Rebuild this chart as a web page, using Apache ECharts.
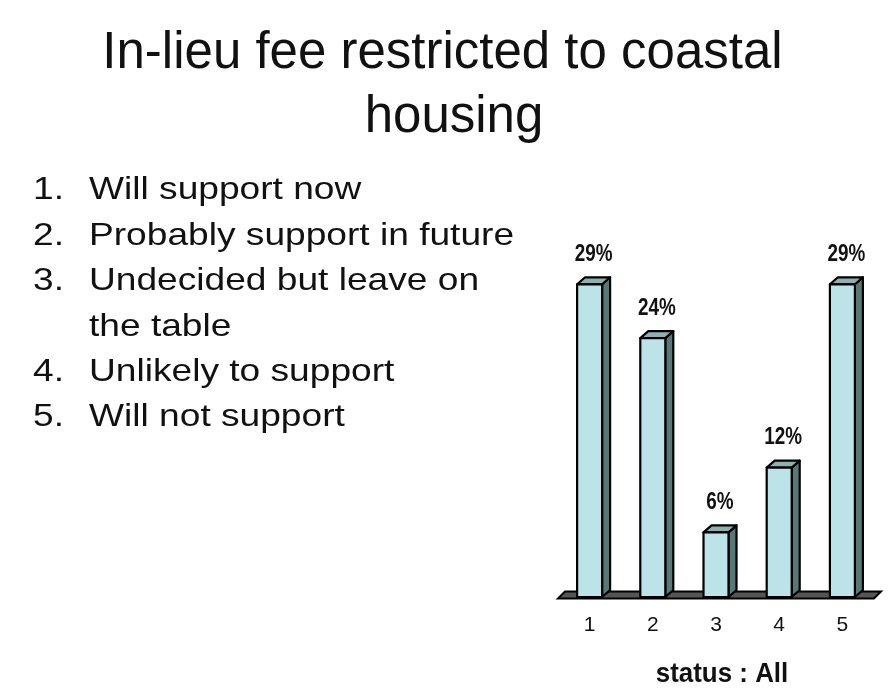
<!DOCTYPE html>
<html>
<head>
<meta charset="utf-8">
<script src="https://cdn.jsdelivr.net/npm/echarts@6/dist/echarts.min.js"></script>
<style>
  html, body { margin: 0; padding: 0; background: #ffffff; }
  #chart { width: 888px; height: 692px; }
</style>
</head>
<body>
<div id="chart"></div>
<script>
// Survey answers: share of respondents per answer option (percent)
const categories = ['1', '2', '3', '4', '5'];
const shares = [29, 24, 6, 12, 29];

// Title lines and the numbered list of answer options
const titleLines = ['In-lieu fee restricted to coastal', 'housing'];
const optionNumbers = ['1.', '2.', '3.', '', '4.', '5.'];
const optionTexts = [
  'Will support now',
  'Probably support in future',
  'Undecided but leave on',
  'the table',
  'Unlikely to support',
  'Will not support'
];
const axisCaption = 'status : All';

const chart = echarts.init(document.getElementById('chart'), null, { renderer: 'canvas' });

const GRID = { left: 558, width: 316, top: 273.5, height: 323.5 };
const BASE_Y = GRID.top + GRID.height;

// Pseudo-3D column: front face, right side and top cap, with a value label above
function renderColumn(params, api) {
  const ci = api.value(0);
  const v = api.value(1);
  const topPt = api.coord([ci, v]);
  const botPt = api.coord([ci, 0]);
  const hw = 12.5, dx = 8, dy = 7;
  const x0 = topPt[0] - hw, x1 = topPt[0] + hw;
  const yt = topPt[1], yb = botPt[1];
  const edge = { stroke: '#000', lineWidth: 2.2, lineJoin: 'round' };
  return {
    type: 'group',
    children: [
      { type: 'polygon', shape: { points: [[x1, yb], [x1, yt], [x1 + dx, yt - dy], [x1 + dx, yb - dy]] },
        style: Object.assign({ fill: '#587878' }, edge) },
      { type: 'polygon', shape: { points: [[x0, yt], [x0 + dx, yt - dy], [x1 + dx, yt - dy], [x1, yt]] },
        style: Object.assign({ fill: '#8fb0b0' }, edge) },
      { type: 'rect', shape: { x: x0, y: yt, width: 2 * hw, height: yb - yt },
        style: Object.assign({ fill: '#bce3e7' }, edge) },
      { type: 'text', x: topPt[0] + dx / 2, y: yt - 30, scaleX: 0.82,
        style: { text: v + '%', font: 'bold 23px "Liberation Sans", Arial, sans-serif',
                 fill: '#111', textAlign: 'center', textVerticalAlign: 'middle' } }
    ]
  };
}

const listY = [190, 236, 281.5, 327, 372, 417];
const listGraphics = [];
optionTexts.forEach(function (t, i) {
  if (optionNumbers[i]) {
    listGraphics.push({ type: 'text', x: 33, y: listY[i], scaleX: 1.16,
      style: { text: optionNumbers[i], font: '32px "Liberation Sans", Arial, sans-serif',
               fill: '#111', textAlign: 'left', textVerticalAlign: 'middle' } });
  }
  listGraphics.push({ type: 'text', x: 89, y: listY[i], scaleX: 1.16,
    style: { text: t, font: '32px "Liberation Sans", Arial, sans-serif',
             fill: '#111', textAlign: 'left', textVerticalAlign: 'middle' } });
});

const option = {
  backgroundColor: '#ffffff',
  animation: false,
  grid: { left: GRID.left, width: GRID.width, top: GRID.top, height: GRID.height },
  xAxis: {
    type: 'category',
    data: categories,
    axisLine: { show: false },
    axisTick: { show: false },
    axisLabel: { margin: 18, fontSize: 21, color: '#111',
                 fontFamily: '"Liberation Sans Narrow", "Liberation Sans", Arial, sans-serif' }
  },
  yAxis: {
    type: 'value', min: 0, max: 30, show: false
  },
  graphic: [
    { type: 'text', x: 442.5, y: 54,
      style: { text: titleLines[0], font: '51px "Liberation Sans", Arial, sans-serif',
               fill: '#111', textAlign: 'center', textVerticalAlign: 'middle' } },
    { type: 'text', x: 454, y: 118,
      style: { text: titleLines[1], font: '51px "Liberation Sans", Arial, sans-serif',
               fill: '#111', textAlign: 'center', textVerticalAlign: 'middle' } },
    // floor slab under the columns
    { type: 'polygon', z: 0,
      shape: { points: [[GRID.left, BASE_Y + 1.5], [GRID.left + 7, BASE_Y - 5.5],
                        [GRID.left + GRID.width + 7, BASE_Y - 5.5], [GRID.left + GRID.width, BASE_Y + 1.5]] },
      style: { fill: '#555555', stroke: '#000', lineWidth: 2 } },
    { type: 'text', x: 722, y: 675, scaleX: 0.96,
      style: { text: axisCaption, font: 'bold 27px "Liberation Sans", Arial, sans-serif',
               fill: '#111', textAlign: 'center', textVerticalAlign: 'middle' } }
  ].concat(listGraphics),
  series: [{
    type: 'custom',
    z: 5,
    renderItem: renderColumn,
    encode: { x: 0, y: 1 },
    data: shares.map(function (v, i) { return [i, v]; })
  }]
};

chart.setOption(option);
</script>
</body>
</html>
